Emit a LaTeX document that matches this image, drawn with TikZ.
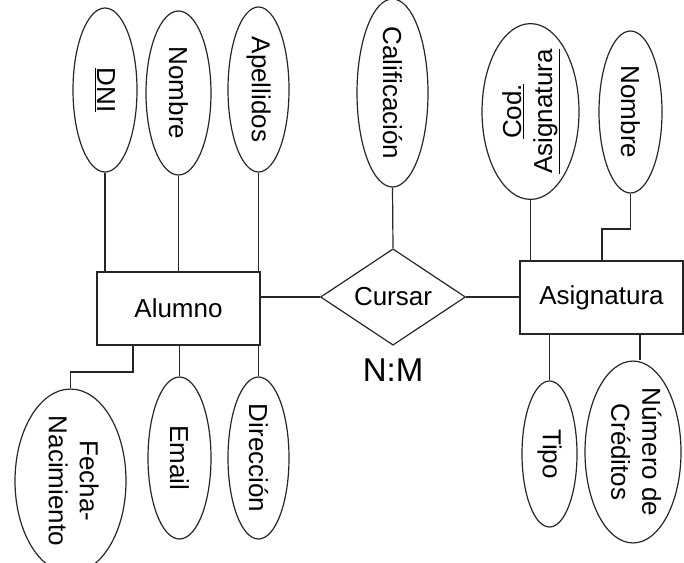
\documentclass[tikz,border=0pt]{standalone}
\usepackage{fontspec}
\setmainfont{Liberation Sans}
\usepackage{graphicx}
\usetikzlibrary{shapes.geometric}
\tikzset{
  base/.style={draw=black!85, line width=1.2pt},
  attr/.style={base, ellipse, inner sep=0pt, font=\fontsize{26}{31}\selectfont},
  entity/.style={base, rectangle, inner sep=0pt, minimum width=163pt, minimum height=73pt, font=\fontsize{26}{31}\selectfont},
  rel/.style={base, diamond, inner sep=0pt, minimum width=145pt, minimum height=90pt, font=\fontsize{26}{31}\selectfont},
  conn/.style={draw=black!85, line width=1.2pt},
}
\newcommand{\rdown}[1]{\rotatebox{-90}{#1}}
\newcommand{\rup}[1]{\rotatebox{90}{#1}}
\newcommand{\twolines}[2]{\begin{tabular}{@{}c@{}}#1\\#2\end{tabular}}
\begin{document}
\begin{tikzpicture}[x=1pt,y=-1pt]
\useasboundingbox (0,0) rectangle (684,562);
% entities and relationship
\node[entity] (alumno) at (178.5,308.5) {Alumno};
\node[entity] (asig) at (601.5,297.5) {Asignatura};
\node[rel] (cursar) at (393,297) {Cursar};
\node[font=\fontsize{33}{38}\selectfont] (nm) at (393,370) {N:M};
% Alumno attributes
\node[attr, minimum width=64pt, minimum height=164pt] (dni) at (105,90) {\rdown{\underline{DNI}}};
\node[attr, minimum width=65pt, minimum height=164pt] (nombre) at (178.5,93) {\rdown{Nombre}};
\node[attr, minimum width=61pt, minimum height=165pt] (apell) at (258.5,89.5) {\rdown{Apellidos}};
\node[attr, minimum width=111pt, minimum height=162pt] (fecha) at (70.5,481) {\rdown{\twolines{Fecha-}{Nacimiento}}};
\node[attr, minimum width=63pt, minimum height=162pt] (email) at (179.5,458) {\rdown{Email}};
\node[attr, minimum width=61pt, minimum height=162pt] (dir) at (258.5,458) {\rdown{Dirección}};
% Cursar attribute
\node[attr, minimum width=71pt, minimum height=158pt] (calif) at (392.5,93) {\rdown{Calificación}};
% Asignatura attributes
\node[attr, minimum width=97pt, minimum height=163pt] (cod) at (530.5,111.5) {\rup{\twolines{\underline{Cod.}}{\underline{Asignatura}}}};
\node[attr, minimum width=63pt, minimum height=162pt] (nombre2) at (630.5,112) {\rdown{Nombre}};
\node[attr, minimum width=55pt, minimum height=146pt] (tipo) at (549.5,454) {\rdown{Tipo}};
\node[attr, minimum width=96pt, minimum height=148pt] (cred) at (633,452) {\rdown{\twolines{Número de}{Créditos}}};
% helper coordinates
\coordinate (fk) at (133,372);
\coordinate (nk) at (602,229);
% connectors
\draw[conn] (dni.south) -- (dni.south |- alumno.north);
\draw[conn] (nombre.south) -- (nombre.south |- alumno.north);
\draw[conn] (apell.south) -- (apell.south |- alumno.north);
\draw[conn] (fecha.north) |- (fk) -- (fk |- alumno.south);
\draw[conn] (email.north) -- (email.north |- alumno.south);
\draw[conn] (dir.north) -- (dir.north |- alumno.south);
\draw[conn] (alumno.east |- cursar.west) -- (cursar.west);
\draw[conn] (cursar.east) -- (cursar.east -| asig.west);
\draw[conn] (calif.south) -- (cursar.north);
\draw[conn] (cod.south) -- (cod.south |- asig.north);
\draw[conn] (nombre2.south) |- (nk) -- (nk |- asig.north);
\draw[conn] (tipo.north) -- (tipo.north |- asig.south);
\draw[conn] ([xshift=7pt]cred.north) -- ([xshift=7pt]cred.north |- asig.south);
\end{tikzpicture}
\end{document}
